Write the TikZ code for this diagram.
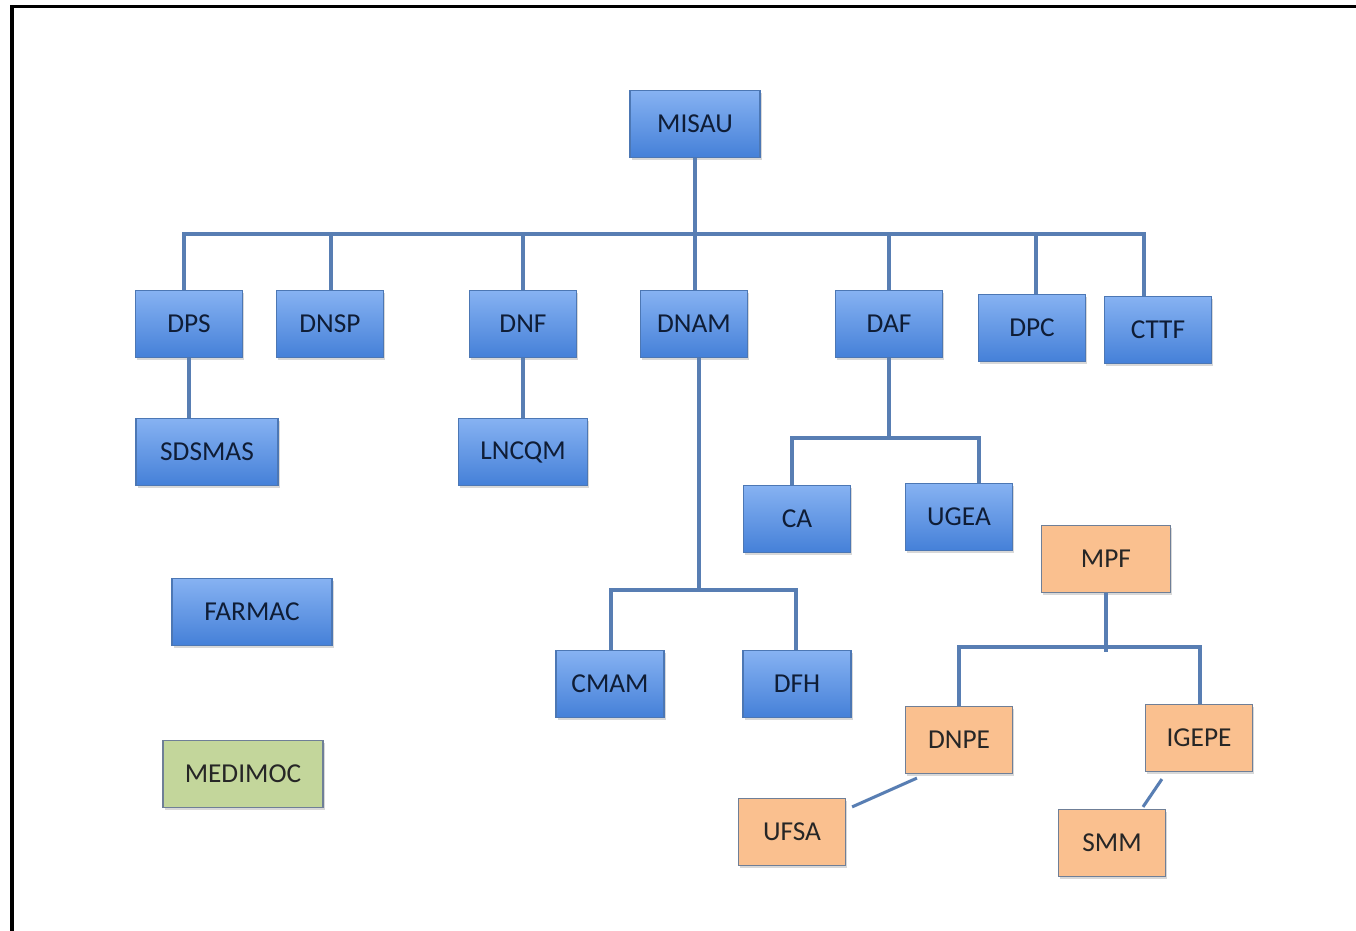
\documentclass[tikz,border=0pt]{standalone}
\usepackage{fontspec}
\setmainfont{Carlito}
\usetikzlibrary{shadows}
\definecolor{bluetop}{HTML}{86B2F2}
\definecolor{bluebot}{HTML}{4580D8}
\definecolor{blueedge}{HTML}{4C77B4}
\definecolor{navy}{HTML}{0F1D36}
\definecolor{orangefill}{HTML}{FAC08F}
\definecolor{greenfill}{HTML}{C3D69B}
\definecolor{grayedge}{HTML}{6F7F97}
\definecolor{conncol}{HTML}{587EB3}
\tikzset{
  box/.style={rectangle, minimum width={107*0.75pt}, minimum height={67*0.75pt},
    inner sep=0pt, font=\fontsize{20.5}{24}\selectfont,
    drop shadow={opacity=0.3, shadow xshift=1.2pt, shadow yshift=-1.8pt}},
  bluebox/.style={box, top color=bluetop, bottom color=bluebot, draw=blueedge, line width=0.8pt, text=navy},
  orangebox/.style={box, fill=orangefill, draw=grayedge, line width=0.9pt, text=black!85},
  greenbox/.style={box, fill=greenfill, draw=grayedge, line width=0.9pt, text=black!85},
  conn/.style={draw=conncol, line width=2.3pt},
  frame/.style={draw=black, line width=2.4pt}
}
\newcommand{\lbl}[1]{\raisebox{-1.6pt}{#1}}
\begin{document}
\begin{tikzpicture}[x=0.75pt, y=-0.75pt]
\useasboundingbox (0,0) rectangle (1356,931);
\fill[white] (0,0) rectangle (1356,931);
\coordinate (fA) at (12,931);
\coordinate (fB) at (12,6.5);
\coordinate (fC) at (1356,6.5);
\draw[frame] (fA) -- (fB) -- (fC);

\coordinate (t1) at (184,234);
\coordinate (t2) at (331,234);
\coordinate (t3) at (523,234);
\coordinate (t4) at (695,234);
\coordinate (t5) at (889,234);
\coordinate (t6) at (1036,234);
\coordinate (t7) at (1144,234);
\coordinate (d1) at (792,438);
\coordinate (d2) at (979,438);
\coordinate (n0) at (699,590);
\coordinate (n1) at (611,590);
\coordinate (n2) at (796,590);
\coordinate (m0) at (1105,652);
\coordinate (m1) at (959,647);
\coordinate (m2) at (1200,647);

\node[bluebox, minimum width={130*0.75pt}] (MISAU) at (695,124) {\lbl{MISAU}};
\node[bluebox] (DPS) at (189,324) {\lbl{DPS}};
\node[bluebox] (DNSP) at (330,324) {\lbl{DNSP}};
\node[bluebox] (DNF) at (523,324) {\lbl{DNF}};
\node[bluebox] (DNAM) at (694,324) {\lbl{DNAM}};
\node[bluebox] (DAF) at (889,324) {\lbl{DAF}};
\node[bluebox] (DPC) at (1032,328) {\lbl{DPC}};
\node[bluebox] (CTTF) at (1158,330) {\lbl{CTTF}};
\node[bluebox, minimum width={142*0.75pt}] (SDSMAS) at (207,452) {\lbl{SDSMAS}};
\node[bluebox, minimum width={129*0.75pt}] (LNCQM) at (523,452) {\lbl{LNCQM}};
\node[bluebox] (CA) at (797,519) {\lbl{CA}};
\node[bluebox] (UGEA) at (959,517) {\lbl{UGEA}};
\node[bluebox, minimum width={160*0.75pt}] (FARMAC) at (252,612) {\lbl{FARMAC}};
\node[greenbox, minimum width={160*0.75pt}] (MEDIMOC) at (243,774) {\lbl{MEDIMOC}};
\node[bluebox, minimum width={108*0.75pt}] (CMAM) at (610,684) {\lbl{CMAM}};
\node[bluebox, minimum width={108*0.75pt}] (DFH) at (797,684) {\lbl{DFH}};
\node[orangebox, minimum width={129*0.75pt}] (MPF) at (1106,559) {\lbl{MPF}};
\node[orangebox] (DNPE) at (959,740) {\lbl{DNPE}};
\node[orangebox] (IGEPE) at (1199,738) {\lbl{IGEPE}};
\node[orangebox] (UFSA) at (792,832) {\lbl{UFSA}};
\node[orangebox] (SMM) at (1112,843) {\lbl{SMM}};

\draw[conn] (MISAU.south) -- (MISAU.south |- t1);
\draw[conn] (t1 |- DPS.north) -- (t1) -- (t7) -- (t7 |- CTTF.north);
\draw[conn] (t2) -- (t2 |- DNSP.north);
\draw[conn] (t3) -- (t3 |- DNF.north);
\draw[conn] (t4) -- (t4 |- DNAM.north);
\draw[conn] (t5) -- (t5 |- DAF.north);
\draw[conn] (t6) -- (t6 |- DPC.north);
\draw[conn] (DPS.south) -- (DPS.south |- SDSMAS.north);
\draw[conn] (DNF.south) -- (LNCQM.north);
\draw[conn] (DAF.south) -- (DAF.south |- d1);
\draw[conn] (d1 |- CA.north) -- (d1) -- (d2) -- (d2 |- UGEA.north);
\draw[conn] (n0 |- DNAM.south) -- (n0);
\draw[conn] (n1 |- CMAM.north) -- (n1) -- (n2) -- (n2 |- DFH.north);
\draw[conn] (MPF.south) -- (MPF.south |- m0);
\draw[conn] (m1 |- DNPE.north) -- (m1) -- (m2) -- (m2 |- IGEPE.north);
\draw[conn] ([shift={(12,4)}]DNPE.south west) -- ([shift={(6,9)}]UFSA.north east);
\draw[conn] ([shift={(17,7)}]IGEPE.south west) -- ([shift={(31,-2)}]SMM.north);
\end{tikzpicture}
\end{document}
